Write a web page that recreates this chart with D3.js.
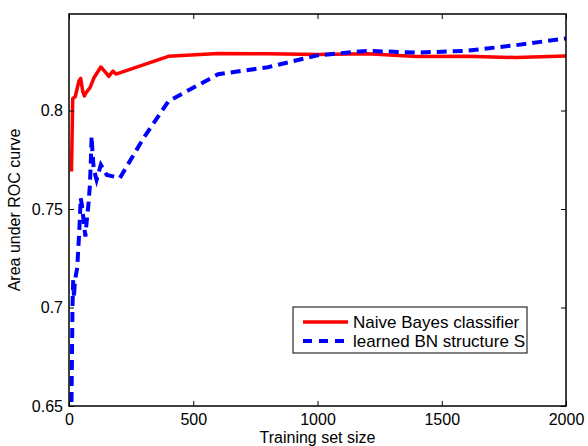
<!DOCTYPE html>
<html>
<head>
<meta charset="utf-8">
<script src="https://cdn.jsdelivr.net/npm/d3@7"></script>
<style>
  body { margin: 0; background: #fff; }
  svg text { font-family: "Liberation Sans", Arial, sans-serif; fill: #000; }
</style>
</head>
<body>
<div id="chart"></div>
<script>
// Naive Bayes classifier (red, solid)
var nb_x = [10, 15, 25, 40, 47, 55, 62, 68, 85, 100, 128, 150, 160, 177, 189, 400, 600, 800, 1000, 1200, 1400, 1600, 1800, 2000]
var nb_y = [0.769, 0.806, 0.807, 0.815, 0.8163, 0.8100, 0.8074, 0.8090, 0.8117, 0.8165, 0.8221, 0.8190, 0.8173, 0.8200, 0.8185, 0.8275, 0.8290, 0.8288, 0.8285, 0.8288, 0.8274, 0.8275, 0.8269, 0.8277]

// learned BN structure S (blue, dashed)
var bn_x = [10, 14, 17, 20, 23, 27, 33, 37, 41, 44, 47, 52, 58, 66, 71, 78, 84, 88, 91, 95, 100, 111, 128, 152, 205, 300, 400, 600, 800, 1000, 1200, 1400, 1600, 1800, 2000]
var bn_y = [0.652, 0.700, 0.714, 0.705, 0.712, 0.716, 0.720, 0.729, 0.738, 0.746, 0.7556, 0.752, 0.745, 0.736, 0.7435, 0.752, 0.762, 0.775, 0.7869, 0.7776, 0.770, 0.7648, 0.7724, 0.7673, 0.7658, 0.786, 0.8047, 0.8184, 0.8220, 0.8280, 0.8303, 0.8294, 0.8303, 0.8332, 0.8366]

var x_ticks = [0, 500, 1000, 1500, 2000]
var y_ticks = [0.65, 0.7, 0.75, 0.8]
var series_names = ["Naive Bayes classifier", "learned BN structure S"]

var width = 588
var height = 446
// plot box edges (named p_* so they don't clash with window.top)
var p_left = 69, p_right = 566, p_top = 14, p_bottom = 406

var svg = d3.select("#chart")
            .append("svg")
            .attr("width", width)
            .attr("height", height)

var xscale = d3.scaleLinear().domain([0, 2000]).range([p_left, p_right])
var yscale = d3.scaleLinear().domain([0.65, 0.849]).range([p_bottom, p_top])

// ticks point inward, on all four sides
var xaxis = d3.axisBottom(xscale).tickValues(x_ticks).tickSizeInner(-5).tickSizeOuter(0).tickPadding(8).tickFormat(d3.format("d"))
var yaxis = d3.axisLeft(yscale).tickValues(y_ticks).tickSizeInner(-5).tickSizeOuter(0).tickPadding(6).tickFormat(d => String(d))
var xaxis_top = d3.axisTop(xscale).tickValues(x_ticks).tickSizeInner(-5).tickSizeOuter(0).tickFormat("")
var yaxis_right = d3.axisRight(yscale).tickValues(y_ticks).tickSizeInner(-5).tickSizeOuter(0).tickFormat("")

svg.append("defs").append("clipPath").attr("id", "plotclip")
  .append("rect").attr("x", p_left).attr("y", p_top).attr("width", p_right - p_left).attr("height", p_bottom - p_top)

var line_nb = d3.line().x((d, i) => xscale(nb_x[i])).y(d => yscale(d))
var line_bn = d3.line().x((d, i) => xscale(bn_x[i])).y(d => yscale(d))

var plot = svg.append("g").attr("clip-path", "url(#plotclip)")

plot.append("path")
  .datum(nb_y)
  .attr("d", line_nb)
  .attr("fill", "none")
  .attr("stroke", "#ff0000")
  .attr("stroke-width", 3.5)
  .attr("stroke-linejoin", "round")

plot.append("path")
  .datum(bn_y)
  .attr("d", line_bn)
  .attr("fill", "none")
  .attr("stroke", "#0000ff")
  .attr("stroke-width", 4)
  .attr("stroke-dasharray", "10,6")

svg.append("g").attr("transform", "translate(0," + p_bottom + ")").call(xaxis)
svg.append("g").attr("transform", "translate(" + p_left + ",0)").call(yaxis)
svg.append("g").attr("transform", "translate(0," + p_top + ")").call(xaxis_top)
svg.append("g").attr("transform", "translate(" + p_right + ",0)").call(yaxis_right)

svg.selectAll(".domain").remove()
svg.selectAll(".tick line").attr("stroke", "#000").attr("stroke-width", 1)
svg.selectAll(".tick text").style("font-size", "16px").attr("fill", "#000")

// axis box
svg.append("rect")
  .attr("x", p_left).attr("y", p_top)
  .attr("width", p_right - p_left).attr("height", p_bottom - p_top)
  .attr("fill", "none").attr("stroke", "#000").attr("stroke-width", 1.5)

svg.append("text")
  .attr("x", (p_left + p_right) / 2)
  .attr("y", 443)
  .attr("text-anchor", "middle")
  .style("font-size", "16px")
  .text("Training set size")

svg.append("text")
  .attr("transform", "translate(20," + ((p_top + p_bottom) / 2) + ") rotate(-90)")
  .attr("text-anchor", "middle")
  .style("font-size", "16px")
  .text("Area under ROC curve")

// legend
var legend = svg.append("g")
legend.append("rect")
  .attr("x", 293).attr("y", 307).attr("width", 234).attr("height", 46)
  .attr("fill", "#fff").attr("stroke", "#000").attr("stroke-width", 1)

var legend_styles = [{color: "#ff0000", dash: null, w: 3.5}, {color: "#0000ff", dash: "9,7", w: 4}]
series_names.forEach(function(name, i){
  var ly = 322 + i * 19
  legend.append("line")
    .attr("x1", 303).attr("x2", 348).attr("y1", ly).attr("y2", ly)
    .attr("stroke", legend_styles[i].color)
    .attr("stroke-width", legend_styles[i].w)
    .attr("stroke-dasharray", legend_styles[i].dash)
  legend.append("text")
    .attr("x", 353).attr("y", ly + 6)
    .style("font-size", "17px")
    .text(name)
})
</script>
</body>
</html>
